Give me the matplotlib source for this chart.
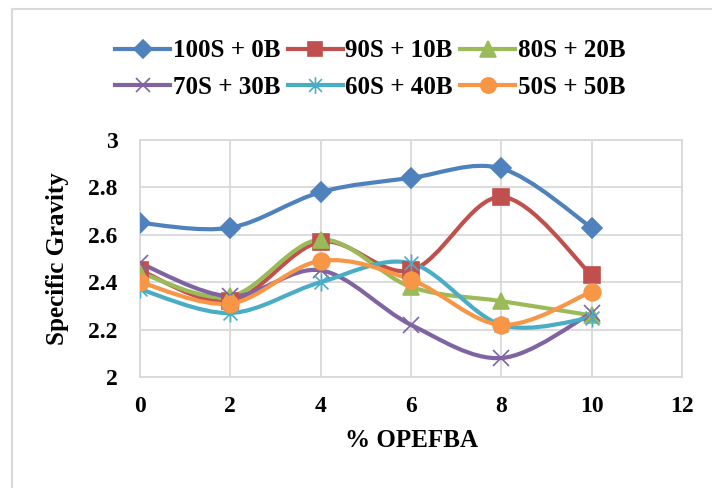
import numpy as np
import matplotlib
matplotlib.use("Agg")
from matplotlib import pyplot as plt
from matplotlib.path import Path
from matplotlib.patches import PathPatch
from matplotlib.lines import Line2D

########################################  DATA  ########################################

opefba = [0, 2, 4, 6, 8, 10]
mix_labels = ["100S + 0B", "90S + 10B", "80S + 20B",
              "70S + 30B", "60S + 40B", "50S + 50B"]
sg_100_0 = [2.65, 2.63, 2.78, 2.84, 2.88, 2.63]
sg_90_10 = [2.45, 2.32, 2.57, 2.45, 2.76, 2.43]
sg_80_20 = [2.44, 2.34, 2.58, 2.38, 2.32, 2.26]
sg_70_30 = [2.48, 2.34, 2.45, 2.22, 2.08, 2.27]
sg_60_40 = [2.37, 2.27, 2.40, 2.48, 2.22, 2.25]
sg_50_50 = [2.40, 2.31, 2.49, 2.41, 2.22, 2.36]
x_ticks = [0, 2, 4, 6, 8, 10, 12]
y_ticks = [2, 2.2, 2.4, 2.6, 2.8, 3]

######################################  STYLE  #########################################

colors = ["#4F81BD", "#C0504D", "#9BBB59", "#8064A2", "#4BACC6", "#F79646"]
# asterisk marker: two diagonals plus a vertical stroke
star = Path([(-1, -1), (1, 1), (-1, 1), (1, -1), (0, -1.3), (0, 1.3)],
            [Path.MOVETO, Path.LINETO, Path.MOVETO, Path.LINETO, Path.MOVETO, Path.LINETO])
markers = [("D", 10), ("s", 11), ("^", 12), ("x", 11), (star, 13), ("o", 12)]

plt.rcParams["font.family"] = ["Liberation Serif", "DejaVu Serif"]
plt.rcParams["font.weight"] = "bold"

def smooth_path(x, y):
    # cubic bezier through every point, tangents from neighbouring points
    pts = np.column_stack([x, y]).astype(float)
    ext = np.vstack([pts[0], pts, pts[-1]])
    verts = [pts[0]]
    codes = [Path.MOVETO]
    for i in range(len(pts) - 1):
        p0, p1, p2, p3 = ext[i], ext[i + 1], ext[i + 2], ext[i + 3]
        verts += [p1 + (p2 - p0) / 6.0, p2 - (p3 - p1) / 6.0, p2]
        codes += [Path.CURVE4] * 3
    return Path(verts, codes)

######################################  PLOT  ##########################################

fig = plt.figure(figsize=(7.12, 4.88), dpi=100)
ax = fig.add_axes([0.1966, 0.2275, 0.7613, 0.4856])

series = [sg_100_0, sg_90_10, sg_80_20, sg_70_30, sg_60_40, sg_50_50]
handles = []
for vals, col, (mk, ms), lab in zip(series, colors, markers, mix_labels):
    ax.add_patch(PathPatch(smooth_path(opefba, vals), fill=False, edgecolor=col,
                           lw=3.0, capstyle="round", joinstyle="round", zorder=3))
    ax.plot(opefba, vals, linestyle="none", marker=mk, ms=ms, color=col,
            mec=col, mew=1.2, zorder=4)
    handles.append(Line2D([], [], color=col, lw=3.0, marker=mk, ms=ms - 1, mec=col,
                          mew=1.2, label=lab))

ax.set_xlim(0, 12)
ax.set_ylim(2, 3)
ax.set_xticks(x_ticks)
ax.set_yticks(y_ticks)
ax.set_yticklabels([f"{v:g}" for v in y_ticks])
ax.grid(True, color="#d9d9d9", lw=1.3)
ax.set_axisbelow(True)
for s in ax.spines.values():
    s.set_color("#d9d9d9")
    s.set_linewidth(1.3)
ax.tick_params(length=0, labelsize=17, pad=16)
ax.tick_params(axis="x", pad=14)
ax.set_xlabel("% OPEFBA", fontsize=18, fontweight="bold", labelpad=8)
ax.set_ylabel("Specific Gravity", fontsize=18, fontweight="bold", labelpad=14)

# legend fills column by column, so reorder to read across the rows
order = [0, 3, 1, 4, 2, 5]
fig.legend(handles=[handles[i] for i in order], ncol=3, loc="center",
           bbox_to_anchor=(0.52, 0.858), frameon=False, fontsize=18,
           handlelength=2.2, handletextpad=0.1, columnspacing=0.3,
           labelspacing=0.55, numpoints=1)

# chart border (left and top edges inside the frame)
fig.add_artist(Line2D([0.017, 0.017], [0.0, 0.9816], color="#d9d9d9", lw=1.5,
                      transform=fig.transFigure))
fig.add_artist(Line2D([0.017, 1.0], [0.9816, 0.9816], color="#d9d9d9", lw=1.5,
                      transform=fig.transFigure))

fig.savefig("out.png", dpi=100)
